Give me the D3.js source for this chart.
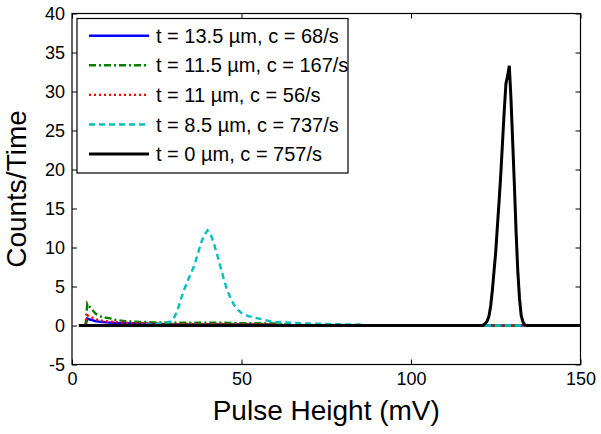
<!DOCTYPE html>
<html><head><meta charset="utf-8">
<script src="https://cdn.jsdelivr.net/npm/d3@7"></script>
<style>body{margin:0;background:#fff}svg{display:block}text{font-family:"Liberation Sans",Arial,sans-serif}</style>
</head><body><svg id="c" width="601" height="434"></svg>
<script>
const legendLabels = ["t = 13.5 \u00b5m, c = 68/s","t = 11.5 \u00b5m, c = 167/s","t = 11 \u00b5m, c = 56/s","t = 8.5 \u00b5m, c = 737/s","t = 0 \u00b5m, c = 757/s"];
const xTicks = [0,50,100,150];
const yTicks = [-5,0,5,10,15,20,25,30,35,40];

const blueX = [4,4.5,5,6,7,8,9,10,12,14,16,20,25,30,40,50,60,63,150];
const blueY = [0,0.9,0.8,0.7,0.55,0.5,0.45,0.4,0.35,0.3,0.3,0.25,0.2,0.15,0.15,0.15,0.1,0,0];

const greenX = [4,4.5,5,6,7,8,9,10,11,12,13,14,15,16,18,20,22,24,26,28,30,35,40,45,50,55,60,63,65,150];
const greenY = [0,2.8,2.5,2.0,1.5,1.2,1.1,1.0,0.95,0.8,0.7,0.65,0.6,0.55,0.5,0.45,0.45,0.4,0.4,0.35,0.35,0.35,0.35,0.35,0.3,0.3,0.25,0.15,0,0];

const redX = [4,4.5,5,6,7,8,9,10,12,14,16,18,20,25,30,40,50,60,63,65,150];
const redY = [0,1.3,1.2,1.0,0.8,0.7,0.6,0.55,0.45,0.4,0.35,0.3,0.3,0.25,0.2,0.2,0.2,0.15,0.1,0,0];

const cyanX = [4,20,22,25,27,29,30,31,32,33,34,35,36,37,38,39,40,41,42,43,44,45,46,47,48,49,50,51,52,54,56,58,60,62,65,70,75,80,85,86,150];
const cyanY = [0,0,0.1,0.2,0.3,0.5,0.9,1.8,3.2,4.5,5.6,6.6,7.6,9.0,10.5,11.6,12.2,11.6,10.3,8.8,7.2,5.6,4.3,3.3,2.5,2.0,1.6,1.4,1.2,1.0,0.8,0.6,0.45,0.4,0.35,0.25,0.2,0.15,0.12,0,0];

const blackX = [2,121,121.5,122,122.5,123,123.5,124,124.5,125,125.5,126,126.5,127,127.5,128,128.5,129,129.5,130,130.5,131,131.5,132,132.5,133,133.5,134,150];
const blackY = [0,0,0.1,0.3,0.6,1.2,2.5,4.5,7.0,9.5,12.8,16.0,19.5,23.5,27.5,31.0,32.0,33.3,29.0,23.5,18.0,12.0,7.0,3.5,1.3,0.5,0.1,0,0];

const seriesX = [blueX, greenX, redX, cyanX, blackX];
const seriesY = [blueY, greenY, redY, cyanY, blackY];
const colors = ["#0000ff","#008000","#ff0000","#00bfbf","#000000"];
const dashes = [null,"7,3,2,3","2,3","6,4",null];
const widths = [2.4,2.4,2.4,2.4,3];

const L=72, R=580.5, T=13.5, B=364.5;
const x = d3.scaleLinear().domain([0,150]).range([L,R]);
const y = d3.scaleLinear().domain([-5,40]).range([B,T]);
const svg = d3.select("#c");

const line = d3.line().x(d=>x(d[0])).y(d=>y(d[1]));
seriesX.forEach((xs,i)=>{
  svg.append("path").attr("d", line(xs.map((v,j)=>[v, seriesY[i][j]])))
    .attr("fill","none").attr("stroke",colors[i]).attr("stroke-width",widths[i])
    .attr("stroke-dasharray",dashes[i]).attr("stroke-linejoin","miter");
});

// frame and axes
svg.append("rect").attr("x",L).attr("y",T).attr("width",R-L).attr("height",B-T)
  .attr("fill","none").attr("stroke","#000").attr("stroke-width",1.2);
const tl=5;
const fmt = d=>String(d);
const ax = svg.append("g");
ax.append("g").attr("transform",`translate(0,${B})`).call(d3.axisBottom(x).tickValues(xTicks).tickSize(-tl).tickPadding(7).tickFormat(fmt))
  .call(g=>{g.select(".domain").remove();g.selectAll("text").attr("font-size",18).attr("dy","0.75em").attr("fill","#000");});
ax.append("g").attr("transform",`translate(0,${T})`).call(d3.axisTop(x).tickValues(xTicks).tickSize(-tl).tickFormat(""))
  .call(g=>g.select(".domain").remove());
ax.append("g").attr("transform",`translate(${L},0)`).call(d3.axisLeft(y).tickValues(yTicks).tickSize(-tl).tickPadding(7).tickFormat(fmt))
  .call(g=>{g.select(".domain").remove();g.selectAll("text").attr("font-size",18).attr("fill","#000");});
ax.append("g").attr("transform",`translate(${R},0)`).call(d3.axisRight(y).tickValues(yTicks).tickSize(-tl).tickFormat(""))
  .call(g=>g.select(".domain").remove());
ax.selectAll("g").attr("font-family",null);

svg.append("text").attr("x",(L+R)/2).attr("y",420).attr("text-anchor","middle").attr("font-size",28).text("Pulse Height (mV)");
svg.append("text").attr("transform",`translate(26,${(T+B)/2}) rotate(-90)`).attr("text-anchor","middle").attr("font-size",28).text("Counts/Time");

// legend
const lg = svg.append("g");
lg.append("rect").attr("x",77).attr("y",18.5).attr("width",271).attr("height",154.5).attr("fill","#fff").attr("stroke","#000").attr("stroke-width",1.2);
legendLabels.forEach((t,i)=>{
  const cy = 35.7 + i*29.6;
  lg.append("line").attr("x1",89).attr("x2",149).attr("y1",cy).attr("y2",cy)
    .attr("stroke",colors[i]).attr("stroke-width",widths[i]).attr("stroke-dasharray",dashes[i]);
  lg.append("text").attr("x",156).attr("y",cy+7).attr("font-size",20).text(t);
});
</script></body></html>
